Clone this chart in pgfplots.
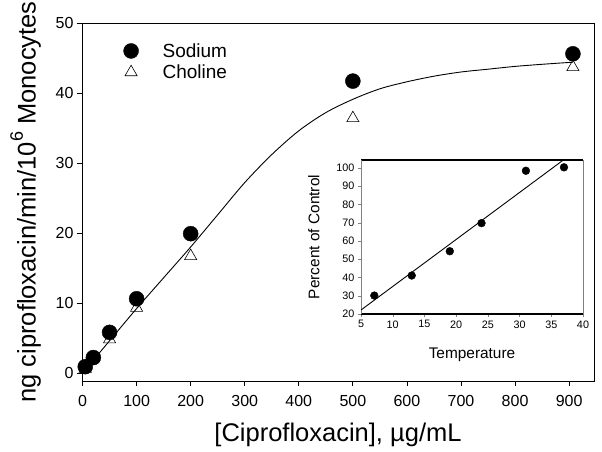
\documentclass[border=0pt]{standalone}
\usepackage{pgfplots}
\pgfplotsset{compat=1.18}
\usepackage{fontspec}
\setmainfont{Liberation Sans}

\pgfplotstableread{
x y
5 0.9
20 2.2
50 5.8
100 10.6
200 19.9
500 41.7
907 45.6
}\sodium
\pgfplotstableread{
x y
5 0.6
20 2.1
50 4.8
100 9.3
200 16.7
500 36.4
907 43.7
}\choline
\pgfplotstableread{
x y
3 0.3
25 2.3
50 4.6
100 9.2
150 13.6
200 18.0
250 22.6
300 27.2
350 31.2
400 34.6
450 37.2
500 39.1
550 40.6
600 41.6
650 42.4
700 43.0
750 43.4
800 43.8
850 44.1
907 44.4
}\fit
\pgfplotstableread{
x y
7.1 30.1
13.0 41.1
19.0 54.4
24.0 69.8
31.0 98.5
37.0 100.4
}\temp

\begin{document}
\begin{tikzpicture}
\path[use as bounding box] (-82pt,-70pt) rectangle (520pt,381pt);
\begin{axis}[
  at={(0pt,0pt)}, anchor=south west,
  scale only axis, width=512pt, height=358pt,
  xmin=-1, xmax=946, ymin=-1.15, ymax=50,
  xtick={0,100,...,900}, ytick={0,10,...,50},
  tick align=outside, tick pos=left, major tick length=5pt,
  axis line style={line width=0.8pt},
  every tick/.style={line width=0.8pt, black},
  ticklabel style={font=\fontsize{16}{16}\selectfont},
  xticklabel style={yshift=-6pt},
  /pgf/number format/assume math mode=true,
  xlabel={[Ciprofloxacin], µg/mL},
  ylabel={ng ciprofloxacin/min/10\raisebox{0.5em}{\fontsize{18}{18}\selectfont 6} Monocytes},
  label style={font=\fontsize{25.5}{25.5}\selectfont},
  xlabel style={yshift=-9pt},
  ylabel style={yshift=8pt},
  legend style={draw=none, fill=none, at={(0.075,0.955)}, anchor=north west,
    font=\fontsize{19}{19}\selectfont, row sep=2pt, cells={anchor=west}},
  legend cell align=left,
]
\addplot[only marks, mark=*, mark size=7.5pt, black] table {\sodium};
\addlegendentry{\hspace{22pt}Sodium}
\addplot[only marks, mark=triangle, mark size=7pt, black, mark options={fill=white, line width=0.6pt}] table {\choline};
\addlegendentry{\hspace{22pt}Choline}
\addplot[smooth, line width=0.9pt, black, forget plot] table {\fit};
\end{axis}
\begin{axis}[
  at={(279pt,67pt)}, anchor=south west,
  scale only axis, width=222pt, height=154pt,
  xmin=5, xmax=40, ymin=20, ymax=104.4,
  xtick={5,10,...,40}, ytick={20,30,...,100},
  separate axis lines,
  x axis line style={line width=1.6pt},
  y axis line style={line width=0.4pt, gray},
  tick align=outside, tick pos=left, major tick length=3pt,
  every tick/.style={line width=0.4pt, gray},
  ticklabel style={font=\fontsize{10.8}{10.8}\selectfont},
  /pgf/number format/assume math mode=true,
  xlabel={Temperature}, ylabel={Percent of Control},
  label style={font=\fontsize{15.4}{15.4}\selectfont},
  xlabel style={yshift=-13pt},
  ylabel style={yshift=10pt},
]
\addplot[line width=0.9pt, black] coordinates {(5,22.2) (36.9,104.4)};
\addplot[only marks, mark=*, mark size=3.9pt, black] table {\temp};
\end{axis}
\end{tikzpicture}
\end{document}
